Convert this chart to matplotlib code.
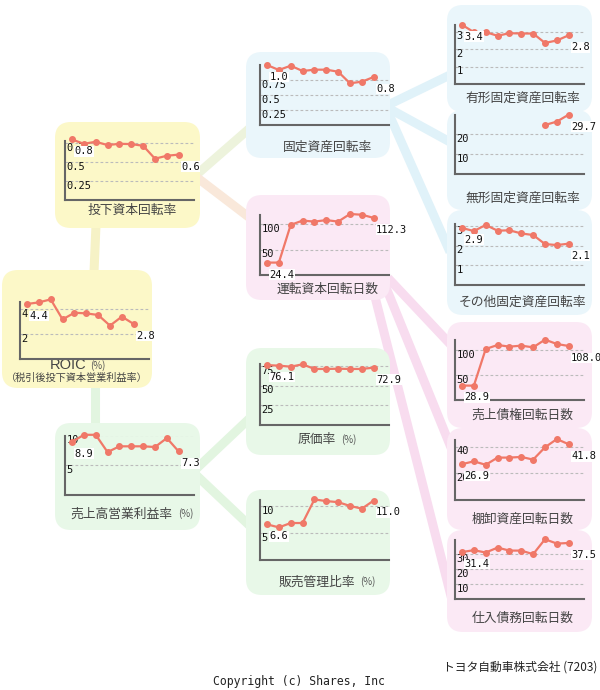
"""
ROIC tree (Toyota, 7203) - small multiples in rounded boxes.
"""
import matplotlib
matplotlib.use("Agg")
import matplotlib.pyplot as plt
import numpy as np
from matplotlib.patches import FancyBboxPatch

W, H = 600, 690
NAN = np.nan

# ---- data (10 fiscal periods, oldest first) ----
roic = [4.4, 4.53, 4.77, 3.17, 3.7, 3.65, 3.52, 2.67, 3.39, 2.8]
ic_turnover = [0.8, 0.743, 0.77, 0.726, 0.743, 0.739, 0.717, 0.546, 0.585, 0.6]
op_margin = [8.9, 10.1, 10.1, 7.2, 8.17, 8.17, 8.17, 8.05, 9.55, 7.3]
fixed_turnover = [1.0, 0.917, 0.988, 0.9, 0.922, 0.922, 0.888, 0.695, 0.722, 0.8]
wc_days = [24.4, 24.4, 98.6, 107.0, 105.0, 108.0, 105.0, 120.0, 118.5, 112.3]
cost_ratio = [76.1, 75.4, 74.1, 77.1, 71.2, 71.2, 71.5, 71.2, 71.2, 72.9]
sga_ratio = [6.6, 6.03, 6.84, 6.84, 11.2, 10.9, 10.7, 10.0, 9.5, 11.0]
tangible_turnover = [3.4, 2.98, 2.98, 2.77, 2.92, 2.9, 2.9, 2.36, 2.5, 2.8]
intangible_turnover = [NAN, NAN, NAN, NAN, NAN, NAN, NAN, 24.5, 26.2, 29.7]
other_fixed_turnover = [2.9, 2.74, 3.05, 2.76, 2.78, 2.62, 2.54, 2.08, 2.03, 2.1]
receivable_days = [28.9, 28.7, 102.0, 110.0, 106.7, 108.7, 105.3, 120.7, 112.0, 108.0]
inventory_days = [26.9, 29.0, 26.4, 31.8, 31.8, 32.3, 30.3, 39.5, 45.7, 41.8]
payable_days = [31.4, 32.7, 31.1, 34.4, 32.4, 32.4, 30.0, 40.0, 37.1, 37.5]

YELLOW, BLUE, PINK, GREEN = "#fcf8c8", "#eaf6fb", "#fbe9f5", "#e8f8e8"
LINE = "#f07868"
JP = ["Noto Sans CJK JP", "DejaVu Sans"]
MONO = "DejaVu Sans Mono"
NUM_SIZE = 7.5

# (values, title, pct, box x0,y0,x1,y1, axis left,bottom,top, ymax, ticks, colour, title y)
PANELS = [
    (roic, "ROIC", True, (2, 270, 152, 388), (20, 359, 302), 4.56, [2, 4], YELLOW, 365),
    (ic_turnover, "投下資本回転率", False, (55, 122, 200, 228), (65, 200, 141), 0.78,
     [0.25, 0.5, 0.75], YELLOW, 210),
    (op_margin, "売上高営業利益率", True, (55, 423, 200, 530), (65, 495, 436), 9.9,
     [5, 10], GREEN, 514),
    (fixed_turnover, "固定資産回転率", False, (246, 52, 390, 158), (260, 125, 65), 1.0,
     [0.25, 0.5, 0.75], BLUE, 147),
    (wc_days, "運転資本回転日数", False, (246, 195, 390, 300), (260, 275, 215), 118,
     [50, 100], PINK, 289),
    (cost_ratio, "原価率", True, (246, 348, 390, 455), (260, 425, 364), 77.5,
     [25, 50, 75], GREEN, 440),
    (sga_ratio, "販売管理比率", True, (246, 490, 390, 595), (260, 560, 500), 11.1,
     [5, 10], GREEN, 582),
    (tangible_turnover, "有形固定資産回転率", False, (447, 5, 592, 112), (455, 84, 25), 3.39,
     [1, 2, 3], BLUE, 98),
    (intangible_turnover, "無形固定資産回転率", False, (447, 110, 592, 210), (455, 174, 115), 29.5,
     [10, 20], BLUE, 198),
    (other_fixed_turnover, "その他固定資産回転率", False, (447, 210, 592, 315), (455, 285, 224), 3.1,
     [1, 2, 3], BLUE, 302),
    (receivable_days, "売上債権回転日数", False, (447, 322, 592, 428), (455, 400, 340), 120,
     [50, 100], PINK, 415),
    (inventory_days, "棚卸資産回転日数", False, (447, 428, 592, 530), (455, 500, 440), 45,
     [20, 40], PINK, 519),
    (payable_days, "仕入債務回転日数", False, (447, 530, 592, 632), (455, 599, 540), 39.5,
     [10, 20, 30], PINK, 618),
]

# connector bands (pixel coords)
BANDS = [
    ((96, 225), (94, 272), "#f6f2c6"),
    ((95, 386), (95, 425), "#e2f5e0"),
    ((195, 176), (250, 128), "#edf3dc"),
    ((195, 176), (250, 218), "#f9e8da"),
    ((388, 105), (450, 75), "#e0f2f9"),
    ((388, 108), (450, 142), "#e0f2f9"),
    ((388, 112), (450, 252), "#e0f2f9"),
    ((388, 278), (452, 346), "#f8dcef"),
    ((385, 285), (452, 450), "#f8dcef"),
    ((372, 285), (452, 600), "#f8dcef"),
    ((195, 470), (250, 418), "#e2f5e0"),
    ((195, 474), (250, 526), "#e2f5e0"),
]

AX_W = 129


def draw_panel(fig, bg, vals, title, pct, box, axis, ymax, ticks, colour, ty):
    x0, y0, x1, y1 = box
    bg.add_patch(FancyBboxPatch((x0 + 16, y0 + 16), x1 - x0 - 32, y1 - y0 - 32,
                                boxstyle="round,pad=16", fc=colour, ec="none", zorder=2))
    left, bottom, top = axis
    ax = fig.add_axes([left / W, 1 - bottom / H, AX_W / W, (bottom - top) / H])
    ax.patch.set_alpha(0)
    ax.set_xlim(-0.59, 10.29)
    ax.set_ylim(0, ymax)
    for s in ("top", "right"):
        ax.spines[s].set_visible(False)
    for s in ("left", "bottom"):
        ax.spines[s].set_color("#666666")
        ax.spines[s].set_linewidth(1.5)
    ax.set_xticks([])
    ax.set_yticks([])
    for t in ticks:
        ax.axhline(t, color="#bbbbbb", lw=0.8, ls=(0, (2.5, 2)), zorder=1)
        ax.annotate(f"{t:g}", xy=(0, t), xycoords=("axes fraction", "data"),
                    xytext=(1.0, 0.3), textcoords="offset points", ha="left", va="top",
                    fontsize=NUM_SIZE, family=MONO, color="#111111", zorder=2)
    x = np.arange(len(vals))
    v = np.array(vals, dtype=float)
    ax.plot(x, v, color=LINE, lw=1.6, marker="o", ms=4, clip_on=False, zorder=3)
    valid = np.where(~np.isnan(v))[0]
    label_idx = [valid[-1]] if valid[0] != 0 else [valid[0], valid[-1]]
    for i in label_idx:
        ax.annotate(f"{v[i]:.1f}", xy=(i, v[i]), xytext=(1.8, -5), textcoords="offset points",
                    ha="left", va="top", fontsize=NUM_SIZE, family=MONO, color="#111111",
                    bbox=dict(fc="white", ec="none", pad=0.3), zorder=4,
                    annotation_clip=False)

    cx = left + AX_W / 2 + 3
    if title == "ROIC":
        t = bg.text(68, ty, title, ha="center", va="center", fontsize=10.5,
                    family="Liberation Sans", color="#444444", zorder=5)
        bg.annotate("(%)", xy=(1, 0.1), xycoords=t, xytext=(3, 0), textcoords="offset points",
                    ha="left", va="bottom", fontsize=7, family=JP, color="#555555", zorder=5)
        bg.text(77, ty + 12.5, "（税引後投下資本営業利益率）", ha="center", va="center",
                fontsize=7.3, family=JP, color="#444444", zorder=5)
    elif pct:
        t = bg.text(cx - 11, ty, title, ha="center", va="center", fontsize=9.2,
                    family=JP, color="#444444", zorder=5)
        bg.annotate("(%)", xy=(1, 0.1), xycoords=t, xytext=(4, 0), textcoords="offset points",
                    ha="left", va="bottom", fontsize=7, family=JP, color="#555555", zorder=5)
    else:
        bg.text(cx, ty, title, ha="center", va="center", fontsize=9.2,
                family=JP, color="#444444", zorder=5)


def main():
    fig = plt.figure(figsize=(W / 100, H / 100), dpi=100)
    bg = fig.add_axes([0, 0, 1, 1])
    bg.set_xlim(0, W)
    bg.set_ylim(H, 0)
    bg.axis("off")

    for (xa, ya), (xb, yb), c in BANDS:
        bg.plot([xa, xb], [ya, yb], color=c, lw=6.5, solid_capstyle="butt", zorder=1)

    for p in PANELS:
        draw_panel(fig, bg, *p)

    bg.text(597, 667, "トヨタ自動車株式会社 (7203)", ha="right", va="center",
            fontsize=8.5, family=JP, color="#222222")
    bg.text(213, 682, "Copyright (c) Shares, Inc", ha="left", va="center",
            fontsize=8.3, family=MONO, color="#222222")

    fig.savefig("out.png", dpi=100)
    plt.close(fig)


if __name__ == "__main__":
    main()
